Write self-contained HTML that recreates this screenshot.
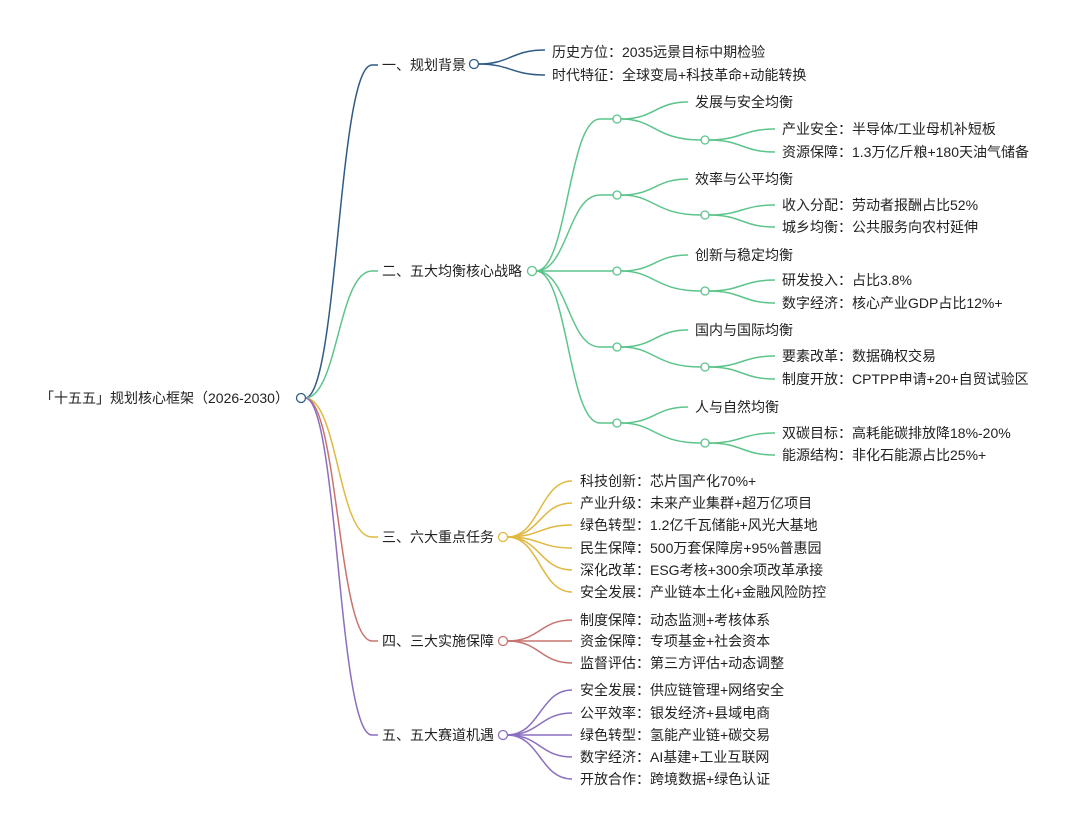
<!DOCTYPE html>
<html><head><meta charset="utf-8"><style>
html,body{margin:0;padding:0;background:#fff;}
svg text{font-family:"Liberation Sans","Noto Sans CJK SC",sans-serif;font-size:14px;fill:#222;dominant-baseline:central;}
</style></head><body>
<svg width="1076" height="810" viewBox="0 0 1076 810" xmlns="http://www.w3.org/2000/svg">
<g fill="none" stroke-width="1.5">
<!-- root branches -->
<path d="M305,398 C338,398 338,65 372,65 L378,65" stroke="#2f5b85"/>
<path d="M305,398 C338,398 338,271 372,271 L378,271" stroke="#5cc48a"/>
<path d="M305,398 C338,398 338,537 372,537 L378,537" stroke="#e0b840"/>
<path d="M305,398 C338,398 338,641 372,641 L378,641" stroke="#c8736e"/>
<path d="M305,398 C338,398 338,735 372,735 L378,735" stroke="#8b6fc0"/>
<!-- group 1 -->
<g stroke="#2f5b85">
<path d="M478,64 C511,64 511,50 545,50"/>
<path d="M478,64 C511,64 511,75 545,75"/>
</g>
<!-- group 2 -->
<g stroke="#5cc48a">
<path d="M536,271 C568,271 568,119 600,119 L613,119"/>
<path d="M536,271 C568,271 568,195 600,195 L613,195"/>
<path d="M536,271 L613,271"/>
<path d="M536,271 C568,271 568,347 600,347 L613,347"/>
<path d="M536,271 C568,271 568,423 600,423 L613,423"/>
<path d="M621,119 C655,119 655,102 688,102"/><path d="M621,119 C655,119 655,140 701,140"/>
<path d="M709,140 C742,140 742,129 775,129"/><path d="M709,140 C742,140 742,152 775,152"/>
<path d="M621,195 C655,195 655,179 688,179"/><path d="M621,195 C655,195 655,215 701,215"/>
<path d="M709,215 C742,215 742,205 775,205"/><path d="M709,215 C742,215 742,227 775,227"/>
<path d="M621,271 C655,271 655,255 688,255"/><path d="M621,271 C655,271 655,291 701,291"/>
<path d="M709,291 C742,291 742,280 775,280"/><path d="M709,291 C742,291 742,303 775,303"/>
<path d="M621,347 C655,347 655,330 688,330"/><path d="M621,347 C655,347 655,367 701,367"/>
<path d="M709,367 C742,367 742,356 775,356"/><path d="M709,367 C742,367 742,379 775,379"/>
<path d="M621,423 C655,423 655,407 688,407"/><path d="M621,423 C655,423 655,443 701,443"/>
<path d="M709,443 C742,443 742,433 775,433"/><path d="M709,443 C742,443 742,455 775,455"/>
</g>
<!-- group 3 -->
<g stroke="#e0b840">
<path d="M507,537 C540,537 540,481 572,481"/><path d="M507,537 C540,537 540,503 572,503"/>
<path d="M507,537 C540,537 540,525 572,525"/><path d="M507,537 C540,537 540,548 572,548"/>
<path d="M507,537 C540,537 540,570 572,570"/><path d="M507,537 C540,537 540,592 572,592"/>
</g>
<g stroke="#c8736e">
<path d="M507,641 C540,641 540,620 572,620"/><path d="M507,641 L572,641"/><path d="M507,641 C540,641 540,663 572,663"/>
</g>
<g stroke="#8b6fc0">
<path d="M507,735 C540,735 540,690 572,690"/><path d="M507,735 C540,735 540,713 572,713"/>
<path d="M507,735 L572,735"/><path d="M507,735 C540,735 540,757 572,757"/>
<path d="M507,735 C540,735 540,779 572,779"/>
</g>
</g>
<g fill="#fff" stroke-width="1.3">
<circle cx="301" cy="398" r="4.5" stroke="#2f5b85"/>
<circle cx="474" cy="64" r="4.5" stroke="#2f5b85"/>
<circle cx="532" cy="271" r="4.5" stroke="#5cc48a"/>
<circle cx="617" cy="119" r="4" stroke="#5cc48a"/><circle cx="617" cy="195" r="4" stroke="#5cc48a"/>
<circle cx="617" cy="271" r="4" stroke="#5cc48a"/><circle cx="617" cy="347" r="4" stroke="#5cc48a"/>
<circle cx="617" cy="423" r="4" stroke="#5cc48a"/>
<circle cx="705" cy="140" r="4" stroke="#5cc48a"/><circle cx="705" cy="215" r="4" stroke="#5cc48a"/>
<circle cx="705" cy="291" r="4" stroke="#5cc48a"/><circle cx="705" cy="367" r="4" stroke="#5cc48a"/>
<circle cx="705" cy="443" r="4" stroke="#5cc48a"/>
<circle cx="503" cy="537" r="4.5" stroke="#e0b840"/>
<circle cx="503" cy="641" r="4.5" stroke="#c8736e"/>
<circle cx="503" cy="735" r="4.5" stroke="#8b6fc0"/>
</g>
<text x="40" y="398">「十五五」规划核心框架（2026-2030）</text>
<text x="382" y="65">一、规划背景</text>
<text x="382" y="271">二、五大均衡核心战略</text>
<text x="382" y="537">三、六大重点任务</text>
<text x="382" y="641">四、三大实施保障</text>
<text x="382" y="735">五、五大赛道机遇</text>
<text x="552" y="52">历史方位：2035远景目标中期检验</text>
<text x="552" y="75">时代特征：全球变局+科技革命+动能转换</text>
<text x="695" y="102">发展与安全均衡</text>
<text x="782" y="129">产业安全：半导体/工业母机补短板</text>
<text x="782" y="152">资源保障：1.3万亿斤粮+180天油气储备</text>
<text x="695" y="179">效率与公平均衡</text>
<text x="782" y="205">收入分配：劳动者报酬占比52%</text>
<text x="782" y="227">城乡均衡：公共服务向农村延伸</text>
<text x="695" y="255">创新与稳定均衡</text>
<text x="782" y="280">研发投入：占比3.8%</text>
<text x="782" y="303">数字经济：核心产业GDP占比12%+</text>
<text x="695" y="330">国内与国际均衡</text>
<text x="782" y="356">要素改革：数据确权交易</text>
<text x="782" y="379">制度开放：CPTPP申请+20+自贸试验区</text>
<text x="695" y="407">人与自然均衡</text>
<text x="782" y="433">双碳目标：高耗能碳排放降18%-20%</text>
<text x="782" y="455">能源结构：非化石能源占比25%+</text>
<text x="580" y="481">科技创新：芯片国产化70%+</text>
<text x="580" y="503">产业升级：未来产业集群+超万亿项目</text>
<text x="580" y="525">绿色转型：1.2亿千瓦储能+风光大基地</text>
<text x="580" y="548">民生保障：500万套保障房+95%普惠园</text>
<text x="580" y="570">深化改革：ESG考核+300余项改革承接</text>
<text x="580" y="592">安全发展：产业链本土化+金融风险防控</text>
<text x="580" y="620">制度保障：动态监测+考核体系</text>
<text x="580" y="641">资金保障：专项基金+社会资本</text>
<text x="580" y="663">监督评估：第三方评估+动态调整</text>
<text x="580" y="690">安全发展：供应链管理+网络安全</text>
<text x="580" y="713">公平效率：银发经济+县域电商</text>
<text x="580" y="735">绿色转型：氢能产业链+碳交易</text>
<text x="580" y="757">数字经济：AI基建+工业互联网</text>
<text x="580" y="779">开放合作：跨境数据+绿色认证</text>
</svg>
</body></html>
